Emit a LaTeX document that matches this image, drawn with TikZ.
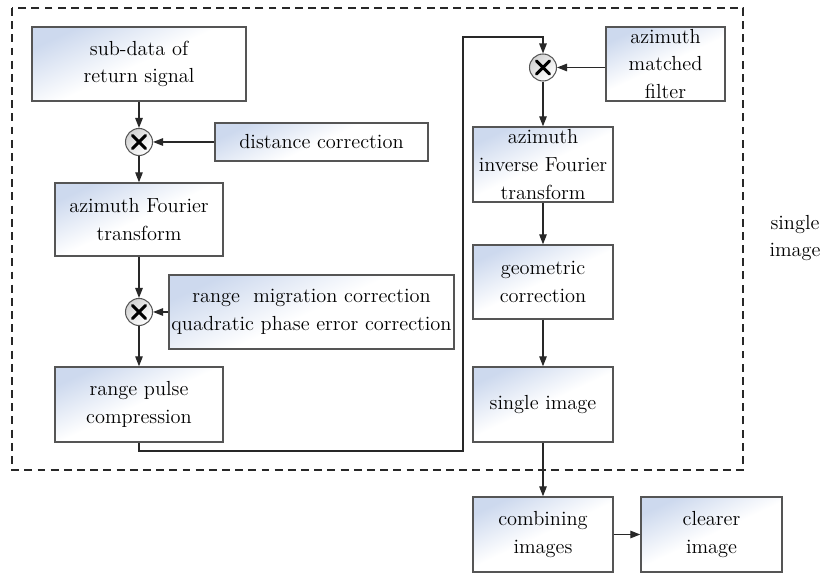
\documentclass[tikz,border=0pt]{standalone}
\usetikzlibrary{arrows.meta,calc}
\definecolor{boxblue}{RGB}{205,217,238}
\definecolor{edge}{RGB}{85,85,85}
\definecolor{conn}{RGB}{40,40,40}
\tikzset{
  box/.style={draw=edge, line width=0.8pt, top color=boxblue, bottom color=white, middle color=white, shading angle=25,
    align=center, inner sep=0pt, font=\rmfamily\fontsize{11.6}{15.8}\selectfont},
  mult/.style={circle, draw=edge, line width=0.6pt, top color=gray!35, bottom color=white, shading angle=45,
    minimum size=0.54cm, inner sep=0pt,
    path picture={
      \draw[line width=1.7pt, line cap=round, black] ([shift={(-6.5,-6.5)}]path picture bounding box.center) -- ([shift={(6.5,6.5)}]path picture bounding box.center);
      \draw[line width=1.7pt, line cap=round, black] ([shift={(-6.5,6.5)}]path picture bounding box.center) -- ([shift={(6.5,-6.5)}]path picture bounding box.center);
    }},
  arr/.style={draw=conn, line width=0.7pt, -{Triangle[length=0.2cm,width=0.15cm]}},
  frame/.style={draw=conn, line width=0.7pt, dash pattern=on 4.5pt off 3pt},
  lbl/.style={align=center, font=\rmfamily\fontsize{11.6}{15.8}\selectfont}
}
\begin{document}
\begin{tikzpicture}[x=0.02cm, y=-0.02cm]
\useasboundingbox (0,0) rectangle (825,573);
% dashed frame
\draw[frame] (12,8) rectangle (743,470);

% nodes
\node[box, minimum width=4.28cm, minimum height=1.48cm] (sub) at (139,64) {sub-data of\\return signal};
\node[mult] (m1) at (139,142) {};
\node[box, minimum width=4.26cm, minimum height=0.76cm] (dist) at (321.5,142) {distance correction};
\node[box, minimum width=3.36cm, minimum height=1.46cm] (aft) at (139,219.5) {azimuth Fourier\\transform};
\node[mult] (m2) at (139,312) {};
\node[box, minimum width=5.70cm, minimum height=1.48cm] (rmc) at (311.5,312) {range~ migration correction\\quadratic phase error correction};
\node[box, minimum width=3.36cm, minimum height=1.50cm] (rpc) at (139,404.5) {range pulse\\compression};

\node[mult] (m3) at (543,67.5) {};
\node[box, minimum width=2.38cm, minimum height=1.48cm] (amf) at (665.5,64) {azimuth\\matched\\filter};
\node[box, minimum width=2.80cm, minimum height=1.50cm] (aift) at (543,164.5) {azimuth\\inverse Fourier\\transform};
\node[box, minimum width=2.80cm, minimum height=1.48cm] (geo) at (543,282) {geometric\\correction};
\node[box, minimum width=2.80cm, minimum height=1.50cm] (single) at (543,404.5) {single image};
\node[box, minimum width=2.80cm, minimum height=1.50cm] (comb) at (543,534.5) {combining\\images};
\node[box, minimum width=2.82cm, minimum height=1.50cm] (clear) at (711.5,534.5) {clearer\\image};

\node[lbl] (lab) at (795,238) {single\\image};

% connectors
\draw[arr] (sub.south) -- (m1.north);
\draw[arr] (dist.west) -- (m1.east);
\draw[arr] (m1.south) -- (aft.north);
\draw[arr] (aft.south) -- (m2.north);
\draw[arr] (rmc.west) -- (m2.east);
\draw[arr] (m2.south) -- (rpc.north);
\coordinate (c1) at (463,451);
\coordinate (c2) at (463,37);
\draw[arr] (rpc.south) |- (c1) -- (c2) -| (m3.north);
\draw[arr] (amf.west |- m3.east) -- (m3.east);
\draw[arr] (m3.south) -- (aift.north);
\draw[arr] (aift.south) -- (geo.north);
\draw[arr] (geo.south) -- (single.north);
\draw[arr] (single.south) -- (comb.north);
\draw[arr] (comb.east) -- (clear.west);
\end{tikzpicture}
\end{document}
